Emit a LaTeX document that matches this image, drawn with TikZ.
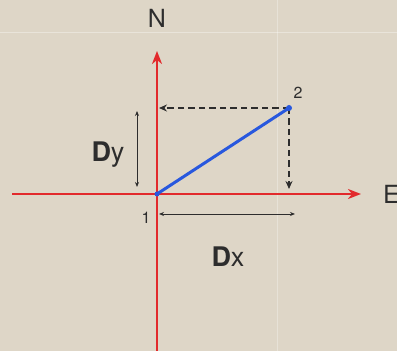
\documentclass[tikz,border=0pt]{standalone}
\usepackage{fontspec}
\setmainfont{TeX Gyre Heros}
\usetikzlibrary{arrows.meta}
\definecolor{paper}{RGB}{222,214,199}
\definecolor{axisred}{RGB}{226,42,44}
\definecolor{lineblue}{RGB}{40,88,222}
\definecolor{inkgray}{RGB}{45,45,45}
\begin{document}
\begin{tikzpicture}[x=1pt,y=1pt,
  axis/.style={line width=2.5pt,axisred},
  dashline/.style={line width=1.6pt,inkgray,dash pattern=on 6.5pt off 4pt},
  measure/.style={line width=0.9pt,inkgray,{Stealth[length=5pt,width=4pt]}-{Stealth[length=5pt,width=4pt]}},
  lbl/.style={inner sep=0pt,text=inkgray}]
\fill[paper] (0,0) rectangle (397,351);
\useasboundingbox (0,0) rectangle (397,351);
\draw[white,opacity=0.35,line width=1pt] (0,318) -- (397,318);
\draw[white,opacity=0.3,line width=1pt] (277,0) -- (277,351);
% axes
\coordinate (O) at (157,157);
\coordinate (Ntip) at (157,300);
\coordinate (Stail) at (157,0);
\coordinate (Wtail) at (12,157);
\coordinate (Etip) at (361,157);
\draw[axis,-{Stealth[length=13pt,width=10pt,inset=4pt]}] (Stail) -- (Ntip);
\draw[axis,-{Stealth[length=13pt,width=10pt,inset=4pt]}] (Wtail) -- (Etip);
\node[lbl,font=\fontsize{25}{25}\selectfont] (N) at (157,333) {N};
\node[lbl,font=\fontsize{25}{25}\selectfont,anchor=west] (E) at (383,157) {E};
% points
\coordinate (P) at (289,243);
\coordinate (Py) at (159,243);
\coordinate (Px) at (289,162);
\draw[dashline,-{Stealth[length=8pt,width=7pt]}] (P) -- (Py);
\draw[dashline,-{Stealth[length=8pt,width=7pt]}] (P) -- (Px);
\draw[line width=3pt,lineblue,line cap=round] (O) -- (P);
\fill[lineblue] (P) circle (3pt);
\fill[lineblue] (O) circle (2.5pt);
\node[lbl,font=\fontsize{16}{16}\selectfont] (two) at (298,258) {2};
\node[lbl,font=\fontsize{16}{16}\selectfont] (one) at (146,133) {1};
% components
\coordinate (DyTop) at (137,240);
\coordinate (DyBot) at (137,164);
\coordinate (DxL) at (159,137);
\coordinate (DxR) at (295,137);
\draw[measure] (DyTop) -- (DyBot);
\draw[measure] (DxL) -- (DxR);
\node[lbl,font=\fontsize{27}{27}\selectfont] (Dy) at (108,196) {\textbf{D}y};
\node[lbl,font=\fontsize{27}{27}\selectfont] (Dx) at (228,94) {\textbf{D}x};
\end{tikzpicture}
\end{document}
